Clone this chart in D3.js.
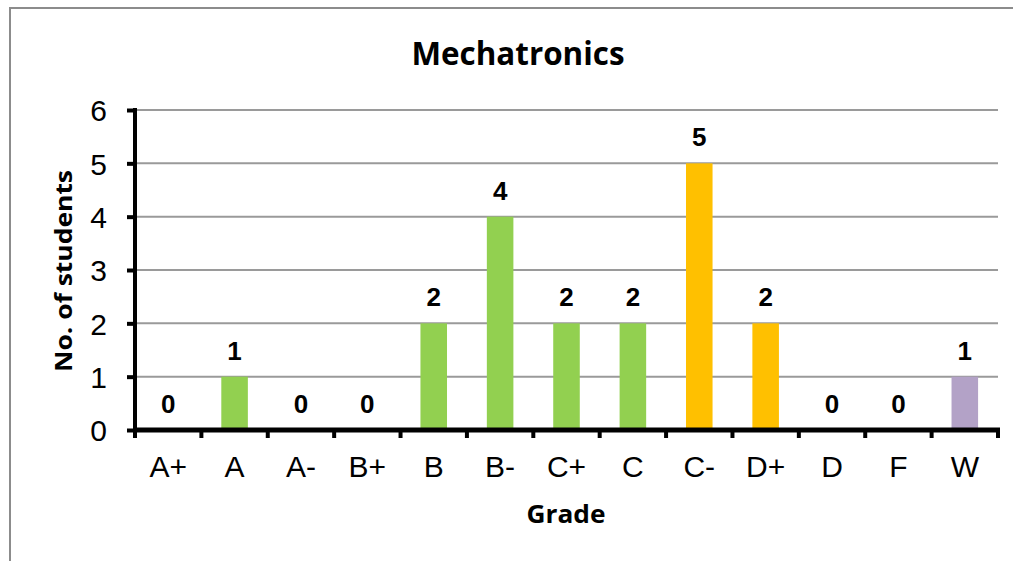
<!DOCTYPE html>
<html>
<head>
<meta charset="utf-8">
<script src="https://cdn.jsdelivr.net/npm/d3@7"></script>
<style>
  html, body { margin: 0; padding: 0; background: #fff; }
  svg { display: block; }
</style>
</head>
<body>
<div id="chart"></div>
<script>
// grades and counts
var grades = ["A+", "A", "A-", "B+", "B", "B-", "C+", "C", "C-", "D+", "D", "F", "W"];
var counts = [0, 1, 0, 0, 2, 4, 2, 2, 5, 2, 0, 0, 1];
var gradeGroup = ["pass", "pass", "pass", "pass", "pass", "pass", "pass", "pass", "warn", "warn", "fail", "fail", "withdrawn"];
var yTicks = [0, 1, 2, 3, 4, 5, 6];

var W = 1013, H = 561;
var svg = d3.select("#chart").append("svg")
  .attr("width", W)
  .attr("height", H);

// outer frame (only top and left edges show)
svg.append("path")
  .attr("d", "M10,561 L10,8 L1013,8")
  .attr("fill", "none")
  .attr("stroke", "#8c8c8c")
  .attr("stroke-width", 2);

var x = d3.scaleBand()
  .domain(grades)
  .range([135, 998])
  .paddingInner(0.6)
  .paddingOuter(0.3);

var y = d3.scaleLinear()
  .domain([0, 6])
  .range([430, 110]);

var color = d3.scaleOrdinal()
  .domain(["pass", "warn", "fail", "withdrawn"])
  .range(["#92D050", "#FFC000", "#FF0000", "#B3A2C7"]);

// gridlines
svg.append("g")
  .selectAll("line")
  .data(yTicks.filter(function (d) { return d > 0; }))
  .join("line")
  .attr("x1", 135)
  .attr("x2", 998)
  .attr("y1", function (d) { return y(d); })
  .attr("y2", function (d) { return y(d); })
  .attr("stroke", "#9a9a9a")
  .attr("stroke-width", 2);

// bars
var data = grades.map(function (g, i) { return { grade: g, n: counts[i], grp: gradeGroup[i] }; });
svg.append("g")
  .selectAll("rect")
  .data(data.filter(function (d) { return d.n > 0; }))
  .join("rect")
  .attr("x", function (d) { return x(d.grade); })
  .attr("width", x.bandwidth())
  .attr("y", function (d) { return y(d.n); })
  .attr("height", function (d) { return y(0) - y(d.n); })
  .attr("fill", function (d) { return color(d.grp); });

// value labels
svg.append("g")
  .selectAll("text")
  .data(data)
  .join("text")
  .attr("x", function (d) { return x(d.grade) + x.bandwidth() / 2; })
  .attr("y", function (d) { return y(d.n) - 17; })
  .attr("text-anchor", "middle")
  .style("font-family", "Liberation Sans, Arial, sans-serif")
  .style("font-weight", "bold")
  .style("font-size", "26px")
  .text(function (d) { return d.n; });

// y axis
var yAxis = svg.append("g")
  .attr("transform", "translate(135,0)")
  .call(d3.axisLeft(y).tickValues(yTicks).tickSize(8).tickPadding(20).tickFormat(d3.format("d")));
yAxis.select(".domain")
  .attr("d", "M0,108V432")
  .attr("stroke", "#000")
  .attr("stroke-width", 4);
yAxis.selectAll(".tick line").attr("stroke", "#000").attr("stroke-width", 4);
yAxis.selectAll(".tick text")
  .style("font-family", "Liberation Sans, Arial, sans-serif")
  .style("font-size", "30px")
  .attr("fill", "#000")
  .attr("dy", "0.36em");

// x axis with ticks at category boundaries
var bounds = d3.range(grades.length + 1).map(function (i) { return 135 + i * (998 - 135) / grades.length; });
var xg = svg.append("g");
xg.append("line")
  .attr("x1", 133).attr("x2", 1000)
  .attr("y1", 430).attr("y2", 430)
  .attr("stroke", "#000")
  .attr("stroke-width", 5);
xg.selectAll("line.tk")
  .data(bounds)
  .join("line")
  .attr("class", "tk")
  .attr("x1", function (d) { return d; })
  .attr("x2", function (d) { return d; })
  .attr("y1", 430).attr("y2", 438)
  .attr("stroke", "#000")
  .attr("stroke-width", 4);
xg.selectAll("text")
  .data(grades)
  .join("text")
  .attr("x", function (d) { return x(d) + x.bandwidth() / 2; })
  .attr("y", 477)
  .attr("text-anchor", "middle")
  .style("font-family", "Liberation Sans, Arial, sans-serif")
  .style("font-size", "30px")
  .text(function (d) { return d; });

// titles
svg.append("text")
  .attr("x", 518)
  .attr("y", 65)
  .attr("text-anchor", "middle")
  .attr("textLength", 213)
  .attr("lengthAdjust", "spacingAndGlyphs")
  .style("font-family", "Open Sans, sans-serif")
  .style("font-weight", "bold")
  .style("font-size", "32px")
  .text("Mechatronics");

svg.append("text")
  .attr("x", 566)
  .attr("y", 523)
  .attr("text-anchor", "middle")
  .attr("textLength", 79)
  .attr("lengthAdjust", "spacingAndGlyphs")
  .style("font-family", "Open Sans, sans-serif")
  .style("font-weight", "bold")
  .style("font-size", "25px")
  .text("Grade");

svg.append("text")
  .attr("transform", "translate(72,271) rotate(-90)")
  .attr("text-anchor", "middle")
  .attr("textLength", 202)
  .attr("lengthAdjust", "spacingAndGlyphs")
  .style("font-family", "Open Sans, sans-serif")
  .style("font-weight", "bold")
  .style("font-size", "24px")
  .text("No. of students");
</script>
</body>
</html>
